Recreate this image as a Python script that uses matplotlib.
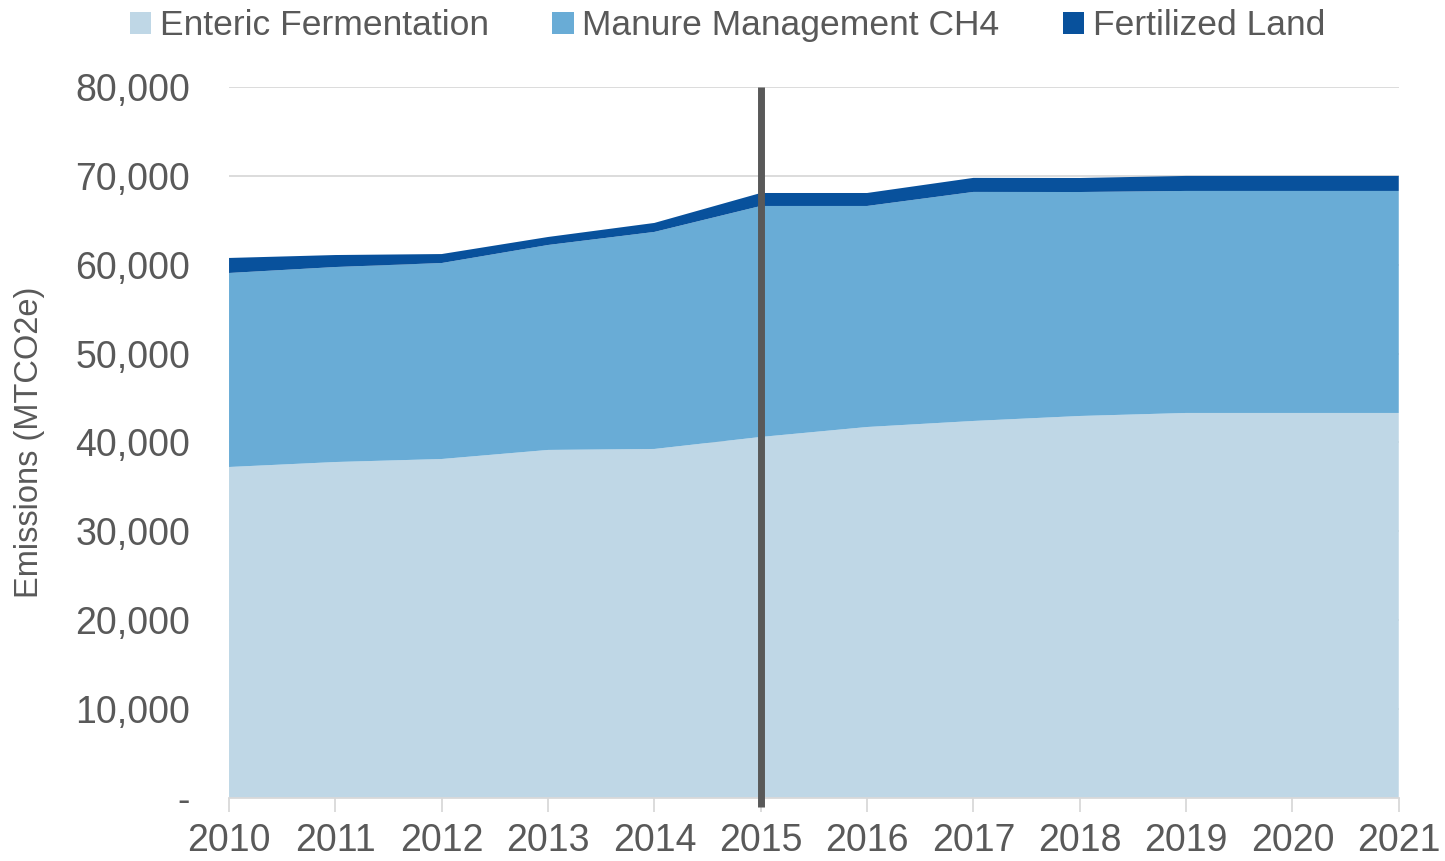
import matplotlib
matplotlib.use("Agg")
import matplotlib.pyplot as plt
from matplotlib.ticker import FuncFormatter, MultipleLocator
from matplotlib.patches import Patch

years = [2010, 2011, 2012, 2013, 2014, 2015, 2016, 2017, 2018, 2019, 2020, 2021]
enteric = [37240, 37800, 38140, 39160, 39270, 40620, 41740, 42420, 42980, 43320, 43320, 43320]
manure = [21830, 21940, 22050, 23060, 24420, 25990, 24870, 25770, 25200, 24980, 24980, 24980]
fertilized = [1690, 1350, 1010, 900, 1010, 1460, 1460, 1580, 1580, 1690, 1690, 1690]
labels = ["Enteric Fermentation", "Manure Management CH4", "Fertilized Land"]
colors = ["#BFD7E6", "#69ACD6", "#08519C"]
marker_year = 2015

plt.rcParams['font.family'] = ['Liberation Sans', 'DejaVu Sans']
text_color = "#595959"

fig = plt.figure(figsize=(14.45, 8.61), dpi=100)
ax = fig.add_axes([0.1585, 0.0732, 0.8095, 0.8258])

ax.stackplot(years, enteric, manure, fertilized, colors=colors, labels=labels, linewidth=0, zorder=2)
ax.set_xlim(years[0], years[-1])
ax.set_ylim(0, 80000)
ax.yaxis.set_major_locator(MultipleLocator(10000))
ax.yaxis.set_major_formatter(FuncFormatter(lambda v, p: "-" if v == 0 else f"{int(v):,}"))
ax.set_xticks(years)
ax.grid(axis='y', color="#D9D9D9", linewidth=1.3, zorder=0)
ax.set_axisbelow(True)
for s in ['top', 'right', 'left']:
    ax.spines[s].set_visible(False)
ax.spines['bottom'].set_color("#D9D9D9")
ax.spines['bottom'].set_linewidth(1.3)
ax.spines['bottom'].set_zorder(3)
ax.tick_params(axis='x', colors="#D9D9D9", length=10, width=1.3, labelcolor=text_color, labelsize=27, pad=8)
ax.tick_params(axis='y', length=0, labelcolor=text_color, labelsize=27, pad=28)

ax.plot([marker_year, marker_year], [-1000, 80000], color="#595959", linewidth=5, zorder=4, clip_on=False, solid_capstyle='butt')

ax.set_ylabel("Emissions (MTCO2e)", color=text_color, fontsize=23.5)
ax.yaxis.set_label_coords(-0.157, 0.5)

handles = [Patch(facecolor=c, edgecolor='none') for c in colors]
fig.legend(handles, labels, loc='upper center', bbox_to_anchor=(0.5035, 1.026), ncol=3, frameon=False,
           fontsize=25.5, labelcolor=text_color, handlelength=0.6, handleheight=0.6, handletextpad=0.25,
           columnspacing=1.78)

fig.savefig("out.png", dpi=100)
